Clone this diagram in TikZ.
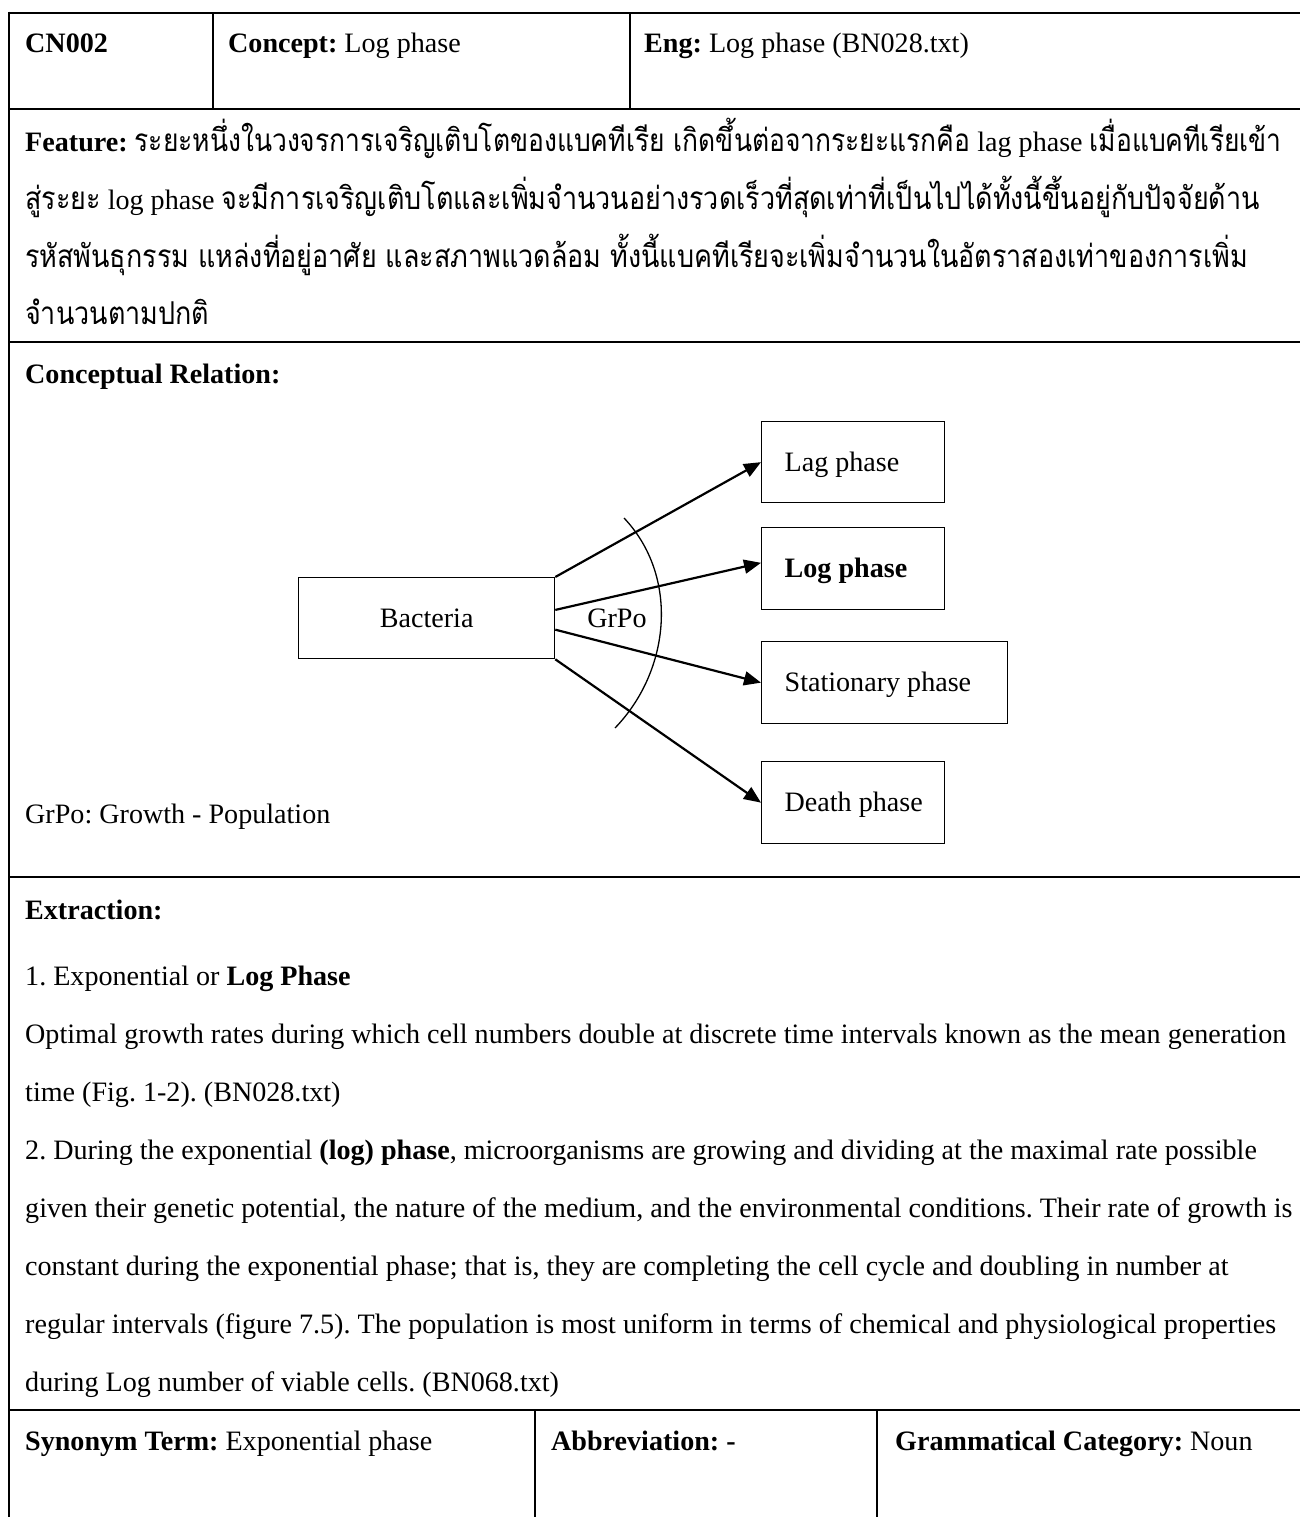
\documentclass[tikz,border=0pt]{standalone}
\usepackage{fontspec}
\setmainfont{Liberation Serif}
\newfontfamily\thaifont[Script=Thai,Scale=1.12,FakeStretch=0.855]{Loma}
\newfontfamily\thaifontnarrow[Script=Thai,Scale=1.12,FakeStretch=0.84]{Loma}
\usetikzlibrary{arrows.meta,calc}
\newcommand\docfont{\fontsize{28.1}{34}\selectfont}
\newcommand\thtxt[1]{{\thaifont #1}}
\newcommand\thtxtn[1]{{\thaifontnarrow #1}}
\frenchspacing

\begin{document}
\begin{tikzpicture}[x=1pt,y=-1pt,
  rule/.style={line width=2pt},
  txt/.style={anchor=base west, inner sep=0pt, font=\docfont},
  phasebox/.style={draw, line width=1.3pt, anchor=north west, font=\docfont,
    inner xsep=23pt, inner ysep=0pt, minimum width=#1,
    text height=25pt, text depth=7pt},
  mainbox/.style={draw, line width=1.3pt, anchor=north west, font=\docfont,
    inner sep=0pt, minimum width=256pt, minimum height=81pt,
    text height=25pt, text depth=7pt},
  link/.style={line width=2.2pt, -{Triangle[length=17pt,width=14pt]}},
]
\useasboundingbox (0,0) rectangle (1299,1517);

% ---- table rules ----
\draw[rule] (8,12.7) -- (1300,12.7);
\draw[rule] (8,108.7) -- (1300,108.7);
\draw[rule] (8,342) -- (1300,342);
\draw[rule] (8,877) -- (1300,877);
\draw[rule] (8,1410) -- (1300,1410);
\draw[rule] (9,11.7) -- (9,1518);
\draw[rule] (213,12.7) -- (213,108.7);
\draw[rule] (630,12.7) -- (630,108.7);
\draw[rule] (535,1410) -- (535,1518);
\draw[rule] (877,1410) -- (877,1518);

% ---- header row ----
\node[txt] (cn) at (25,53) {\textbf{CN002}};
\node[txt] (concept) at (228,53) {\textbf{Concept:} Log phase};
\node[txt] (eng) at (644,53) {\textbf{Eng:} Log phase (BN028.txt)};

% ---- feature ----
\node[txt] (feat1) at (25,152) {\textbf{Feature:} \thtxtn{ระยะหนึ่งในวงจรการเจริญเติบโตของแบคทีเรีย เกิดขึ้นต่อจากระยะแรกคือ} lag phase \thtxtn{เมื่อแบคทีเรียเข้า}};
\node[txt] (feat2) at (25,209.5) {\thtxt{สู่ระยะ} log phase \thtxt{จะมีการเจริญเติบโตและเพิ่มจำนวนอย่างรวดเร็วที่สุดเท่าที่เป็นไปได้ทั้งนี้ขึ้นอยู่กับปัจจัยด้าน}};
\node[txt] (feat3) at (25,267) {\thtxt{รหัสพันธุกรรม แหล่งที่อยู่อาศัย และสภาพแวดล้อม ทั้งนี้แบคทีเรียจะเพิ่มจำนวนในอัตราสองเท่าของการเพิ่ม}};
\node[txt] (feat4) at (25,324.5) {\thtxt{จำนวนตามปกติ}};

% ---- conceptual relation ----
\node[txt] (crel) at (25,383) {\textbf{Conceptual Relation:}};

\node[mainbox] (bac) at (298,577) {Bacteria};
\node[phasebox=183pt, minimum height=81pt] (lag) at (761,421) {\makebox[137pt][l]{Lag phase}};
\node[phasebox=183pt, minimum height=82pt] (logp) at (761,527) {\makebox[137pt][l]{\textbf{Log phase}}};
\node[phasebox=246pt, minimum height=82pt] (stat) at (761,641) {\makebox[200pt][l]{Stationary phase}};
\node[phasebox=183pt, minimum height=82pt] (death) at (761,761) {\makebox[137pt][l]{Death phase}};

\draw[link] (bac.north east) -- (lag.west);
\draw[link] ($(bac.north east)!0.4!(bac.south east)$) -- ($(logp.north west)!0.43!(logp.south west)$);
\draw[link] ($(bac.north east)!0.64!(bac.south east)$) -- (stat.west);
\draw[link] (bac.south east) -- (death.west);

% relation arc and its label
\draw[line width=1.3pt] (624,518) .. controls (679,576) and (671,670) .. (615,728);
\node[anchor=base, inner sep=0pt, font=\docfont] (grpo) at (617,627) {GrPo};

\node[txt] (legend) at (25,823) {GrPo: Growth - Population};

% ---- extraction ----
\node[txt] (extr) at (25,919) {\textbf{Extraction:}};
\node[txt] (ex1) at (25,985) {1. Exponential or \textbf{Log Phase}};
\node[txt] (ex2) at (25,1043.1) {Optimal growth rates during which cell numbers double at discrete time intervals known as the mean generation};
\node[txt] (ex3) at (25,1101.2) {time (Fig. 1-2). (BN028.txt)};
\node[txt] (ex4) at (25,1159.3) {2. During the exponential \textbf{(log) phase}, microorganisms are growing and dividing at the maximal rate possible};
\node[txt] (ex5) at (25,1217.4) {given their genetic potential, the nature of the medium, and the environmental conditions. Their rate of growth is};
\node[txt] (ex6) at (25,1275.5) {constant during the exponential phase; that is, they are completing the cell cycle and doubling in number at};
\node[txt] (ex7) at (25,1333.6) {regular intervals (figure 7.5). The population is most uniform in terms of chemical and physiological properties};
\node[txt] (ex8) at (25,1391.7) {during Log number of viable cells. (BN068.txt)};

% ---- bottom row ----
\node[txt] (syn) at (25,1450) {\textbf{Synonym Term:} Exponential phase};
\node[txt] (abbr) at (551,1450) {\textbf{Abbreviation: -}};
\node[txt] (gram) at (895,1450) {\textbf{Grammatical Category:} Noun};
\end{tikzpicture}
\end{document}
